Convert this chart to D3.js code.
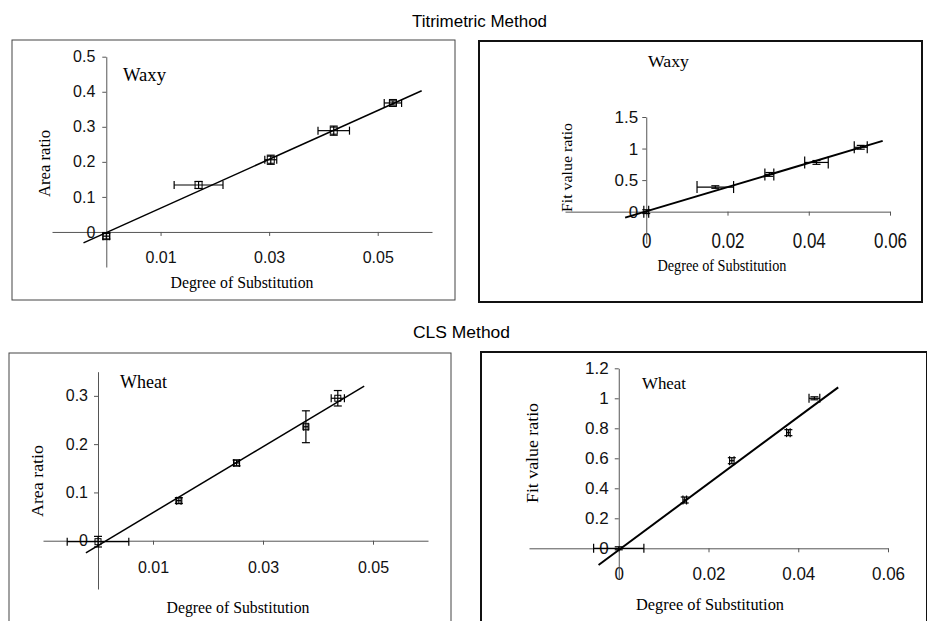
<!DOCTYPE html>
<html>
<head>
<meta charset="utf-8">
<script src="https://cdn.jsdelivr.net/npm/d3@7"></script>
<style>
body { margin: 0; background: #fff; }
svg { display: block; }
</style>
</head>
<body>
<script>
// values
let waxyDS = [0, 0.017, 0.0303, 0.0419, 0.0528];
let waxyDSErr = [0.0006, 0.0045, 0.0011, 0.0029, 0.0016];
let waxyArea = [-0.012, 0.134, 0.206, 0.289, 0.368];
let waxyAreaErr = [0.008, 0.01, 0.013, 0.013, 0.006];
let waxyFit = [0.0, 0.39, 0.59, 0.78, 1.02];
let waxyFitErr = [0.03, 0.02, 0.03, 0.03, 0.03];

let wheatDS = [0, 0.0147, 0.0252, 0.0378, 0.0436];
let wheatDSErr = [0.0056, 0.0004, 0.0005, 0.0004, 0.0012];
let wheatArea = [-0.002, 0.083, 0.161, 0.236, 0.295];
let wheatAreaErr = [0.011, 0.006, 0.006, 0.033, 0.016];
let wheatFit = [0, 0.322, 0.584, 0.771, 1.0];
let wheatFitErr = [0.01, 0.02, 0.02, 0.02, 0.01];

// regression lines, end points as drawn
let waxyAreaLine = [[-0.0042, -0.031], [0.0581, 0.403]];
let waxyFitLine = [[-0.0052, -0.095], [0.0582, 1.122]];
let wheatAreaLine = [[-0.0022, -0.025], [0.0484, 0.320]];
let wheatFitLine = [[-0.0045, -0.111], [0.0489, 1.073]];

// tick labels
let xTicksOdd = [0.01, 0.03, 0.05];
let xTicksEven = [0, 0.02, 0.04, 0.06];
let areaTicksWaxy = [0, 0.1, 0.2, 0.3, 0.4, 0.5];
let fitTicksWaxy = [0, 0.5, 1, 1.5];
let areaTicksWheat = [0, 0.1, 0.2, 0.3];
let fitTicksWheat = [0, 0.2, 0.4, 0.6, 0.8, 1, 1.2];

const SANS = "'Liberation Sans', Arial, sans-serif";
const SERIF = "'Liberation Serif', 'Times New Roman', serif";

let svg = d3.select("body").append("svg").attr("width", 927).attr("height", 621);

// section titles
svg.append("text").attr("x", 412).attr("y", 27).attr("textLength", 135).attr("lengthAdjust", "spacingAndGlyphs")
    .style("font-family", SANS).style("font-size", "16px").text("Titrimetric Method");
svg.append("text").attr("x", 413).attr("y", 338).attr("textLength", 97).attr("lengthAdjust", "spacingAndGlyphs")
    .style("font-family", SANS).style("font-size", "16px").text("CLS Method");

let panels = [
    {frame: [12, 40, 443, 260], fw: 1, xDom: [-0.01, 0.06], xRange: [52, 432], yDom: [-0.1, 0.5], yRange: [267, 56.7],
     xs: waxyDS, xe: waxyDSErr, ys: waxyArea, ye: waxyAreaErr, fit: waxyAreaLine, xt: xTicksOdd, yt: areaTicksWaxy,
     name: ["Waxy", 123, 81, 18, 43], yTitle: ["Area ratio", 50, 163.5, 17, 67], xTitle: [242, 288, 17, 143],
     tickFs: 16, xSy: 1.08, xOff: 31, yOff: 11, marker: 7, lw: 1.5, cap: 8},
    {frame: [479, 41, 443, 261], fw: 2, xDom: [-0.02, 0.06], xRange: [565, 890], yDom: [-0.5, 1.5], yRange: [243.2, 117],
     xs: waxyDS, xe: waxyDSErr, ys: waxyFit, ye: waxyFitErr, fit: waxyFitLine, xt: xTicksEven, yt: fitTicksWaxy,
     name: ["Waxy", 648, 67, 17, 41], yTitle: ["Fit value ratio", 571.5, 167.5, 15, 89], xTitle: [722, 270.7, 16, 129],
     tickFs: 17, xSy: 1.35, xOff: 36, yOff: 8, marker: 0, lw: 2, cap: 12},
    {frame: [9, 353, 442, 270], fw: 1, xDom: [-0.01, 0.06], xRange: [43, 428], yDom: [-0.1, 0.35], yRange: [589, 371.7],
     xs: wheatDS, xe: wheatDSErr, ys: wheatArea, ye: wheatAreaErr, fit: wheatAreaLine, xt: xTicksOdd, yt: areaTicksWheat,
     name: ["Wheat", 120, 388, 18, 47], yTitle: ["Area ratio", 43, 481, 17, 72], xTitle: [238, 613, 17, 143],
     tickFs: 16, xSy: 1.05, xOff: 32, yOff: 10, marker: 6, lw: 1.5, cap: 8},
    {frame: [481, 352, 446, 271], fw: 2, xDom: [-0.02, 0.06], xRange: [529, 888], yDom: [-0.2, 1.2], yRange: [578.3, 368.3],
     xs: wheatDS, xe: wheatDSErr, ys: wheatFit, ye: wheatFitErr, fit: wheatFitLine, xt: xTicksEven, yt: fitTicksWheat,
     name: ["Wheat", 642, 389, 17, 44], yTitle: ["Fit value ratio", 538, 453, 17, 100], xTitle: [710, 610, 17, 148],
     tickFs: 17, xSy: 1.08, xOff: 32, yOff: 10, marker: 0, lw: 2, cap: 9}
];

panels.forEach((p, i) => {
    let g = svg.append("g").attr("class", `panel${i}`);
    let x = d3.scaleLinear().domain(p.xDom).range(p.xRange);
    let y = d3.scaleLinear().domain(p.yDom).range(p.yRange);

    g.append("rect")
        .attr("x", p.frame[0]).attr("y", p.frame[1]).attr("width", p.frame[2]).attr("height", p.frame[3])
        .attr("fill", "none").attr("stroke", p.fw > 1 ? "#111" : "#444").attr("stroke-width", p.fw);

    // axes cross at zero
    let xAxis = d3.axisBottom(x).tickValues(p.xt).tickSize(4).tickSizeOuter(0).tickFormat(d => String(d));
    let yAxis = d3.axisLeft(y).tickValues(p.yt).tickSize(4).tickSizeOuter(0)
        .tickPadding(p.yOff - 4).tickFormat(d => String(d));

    let gx = g.append("g").attr("transform", `translate(0,${y(0)})`).call(xAxis);
    let gy = g.append("g").attr("transform", `translate(${x(0)},0)`).call(yAxis);
    [gx, gy].forEach(a => {
        a.select(".domain").attr("stroke", "#555");
        a.selectAll(".tick line").attr("stroke", "#555");
        a.selectAll(".tick text").attr("fill", "#111").style("font-family", SANS).style("font-size", `${p.tickFs}px`);
    });
    // the scanned x labels are a bit taller than wide
    gx.selectAll(".tick text")
        .attr("transform", `scale(1,${p.xSy})`)
        .attr("y", p.xOff / p.xSy - 0.71 * p.tickFs);

    // fit line
    let line = d3.line().x(d => x(d[0])).y(d => y(d[1]));
    g.append("path").attr("d", line(p.fit)).attr("fill", "none").attr("stroke", "#000").attr("stroke-width", p.lw);

    let pts = p.xs.map((v, k) => ({x: v, xe: p.xe[k], y: p.ys[k], ye: p.ye[k]}));
    let eb = g.append("g").attr("stroke", "#000").attr("stroke-width", 1.2);

    pts.forEach(d => {
        let cx = x(d.x), cy = y(d.y);
        // vertical bar
        eb.append("line").attr("x1", cx).attr("x2", cx).attr("y1", y(d.y - d.ye)).attr("y2", y(d.y + d.ye));
        [d.y - d.ye, d.y + d.ye].forEach(v => {
            eb.append("line").attr("x1", cx - 4).attr("x2", cx + 4).attr("y1", y(v)).attr("y2", y(v));
        });
        // horizontal bar
        eb.append("line").attr("x1", x(d.x - d.xe)).attr("x2", x(d.x + d.xe)).attr("y1", cy).attr("y2", cy);
        [d.x - d.xe, d.x + d.xe].forEach(v => {
            eb.append("line").attr("x1", x(v)).attr("x2", x(v)).attr("y1", cy - p.cap / 2).attr("y2", cy + p.cap / 2);
        });
    });

    if (p.marker > 0) {
        g.selectAll(`rect.m${i}`).data(pts).enter().append("rect")
            .attr("class", `m${i}`)
            .attr("x", d => x(d.x) - p.marker / 2).attr("y", d => y(d.y) - p.marker / 2)
            .attr("width", p.marker).attr("height", p.marker)
            .attr("fill", "none").attr("stroke", "#000").attr("stroke-width", 1);
    }

    // labels
    g.append("text").attr("x", p.name[1]).attr("y", p.name[2])
        .attr("textLength", p.name[4]).attr("lengthAdjust", "spacingAndGlyphs")
        .style("font-family", SERIF).style("font-size", `${p.name[3]}px`).text(p.name[0]);
    g.append("text").attr("transform", `translate(${p.yTitle[1]},${p.yTitle[2]}) rotate(-90)`)
        .attr("text-anchor", "middle").attr("textLength", p.yTitle[4]).attr("lengthAdjust", "spacingAndGlyphs")
        .style("font-family", SERIF).style("font-size", `${p.yTitle[3]}px`).text(p.yTitle[0]);
    g.append("text").attr("x", p.xTitle[0]).attr("y", p.xTitle[1])
        .attr("text-anchor", "middle").attr("textLength", p.xTitle[3]).attr("lengthAdjust", "spacingAndGlyphs")
        .style("font-family", SERIF).style("font-size", `${p.xTitle[2]}px`).text("Degree of Substitution");
});
</script>
</body>
</html>
